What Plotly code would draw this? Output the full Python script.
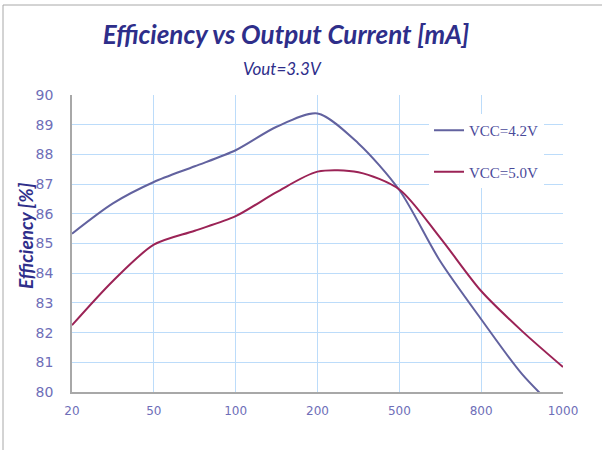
import plotly.graph_objects as go

# Output current categories (equally spaced on the axis, as in the original Excel chart)
currents = ["20", "35", "50", "75", "100", "150", "200", "350", "500", "650", "800", "900", "1000"]
tick_labels = ["20", "50", "100", "200", "500", "800", "1000"]

eff_vcc42 = [85.33, 86.35, 87.07, 87.6, 88.14, 88.93, 89.38, 88.37, 86.8, 84.4, 82.45, 80.6, 79.2]
eff_vcc50 = [82.25, 83.74, 84.96, 85.43, 85.92, 86.73, 87.42, 87.4, 86.82, 85.19, 83.4, 82.05, 80.84]

series_names = ["VCC=4.2V", "VCC=5.0V"]
series_colors = ["#62629f", "#9b2356"]

navy = "#2e2e8a"
tick_color = "#6e6eb8"
grid_color = "#bcdcfa"

fig = go.Figure()
for i, (name, ys, col) in enumerate(zip(series_names, [eff_vcc42, eff_vcc50], series_colors)):
    fig.add_trace(go.Scatter(
        x=currents, y=ys, name=name, mode="lines",
        line=dict(color=col, width=2, shape="spline", smoothing=0.8),
        legendgroup=f"g{i}",
        cliponaxis=True,
    ))

fig.update_layout(
    width=602, height=450,
    margin=dict(l=72, r=39, t=95, b=58),
    paper_bgcolor="white", plot_bgcolor="white",
    title=dict(
        text="<b><i>Efficiency vs Output Current [mA]</i></b>",
        x=(286) / 602, xanchor="center", y=1 - 35 / 450, yanchor="middle",
        font=dict(family="Lato", size=26, color=navy),
    ),
    showlegend=True,
    legend=dict(
        x=(429 - 72) / 491, xanchor="left",
        y=(392 - 114) / 297, yanchor="top",
        bgcolor="white", borderwidth=0,
        font=dict(family="Liberation Serif", size=15, color="#4a4a9a"),
        tracegroupgap=19,
    ),
    annotations=[
        dict(text="<i>Vout=3.3V</i>", xref="paper", yref="paper",
             x=(282 - 72) / 491, y=(392 - 68) / 297, xanchor="center", yanchor="middle",
             showarrow=False, font=dict(family="Lato", size=17, color=navy)),
        dict(text="<b><i>Efficiency [%]</i></b>", xref="paper", yref="paper",
             x=(26 - 72) / 491, y=(392 - 236) / 297, xanchor="center", yanchor="middle",
             textangle=-90, showarrow=False,
             font=dict(family="Lato", size=19, color=navy)),
    ],
    shapes=[
        dict(type="rect", xref="paper", yref="paper",
             x0=(3 - 72) / 491, x1=(606 - 72) / 491,
             y0=(392 - 455) / 297, y1=(392 - 5) / 297,
             line=dict(color="#a8a8a8", width=1), layer="below"),
    ],
)

fig.update_xaxes(
    type="category", categoryorder="array", categoryarray=currents,
    range=[0, len(currents) - 1],
    tickvals=tick_labels, ticktext=tick_labels,
    showgrid=True, gridcolor=grid_color, gridwidth=1,
    showline=True, linecolor="#a8a8a8", linewidth=1.5,
    ticks="", ticklabelstandoff=7,
    tickfont=dict(family="DejaVu Sans", size=12, color=tick_color),
    mirror=False, zeroline=False,
)
fig.update_yaxes(
    range=[80, 90], dtick=1, tick0=80,
    showgrid=True, gridcolor=grid_color, gridwidth=1,
    showline=True, linecolor="#a8a8a8", linewidth=1.5,
    ticks="", ticklabelstandoff=14,
    tickfont=dict(family="DejaVu Sans", size=14, color=tick_color),
    zeroline=False, automargin=False,
)

fig.write_html("out.html", config={"displayModeBar": False},
               post_script="document.body.style.margin='0px';")
